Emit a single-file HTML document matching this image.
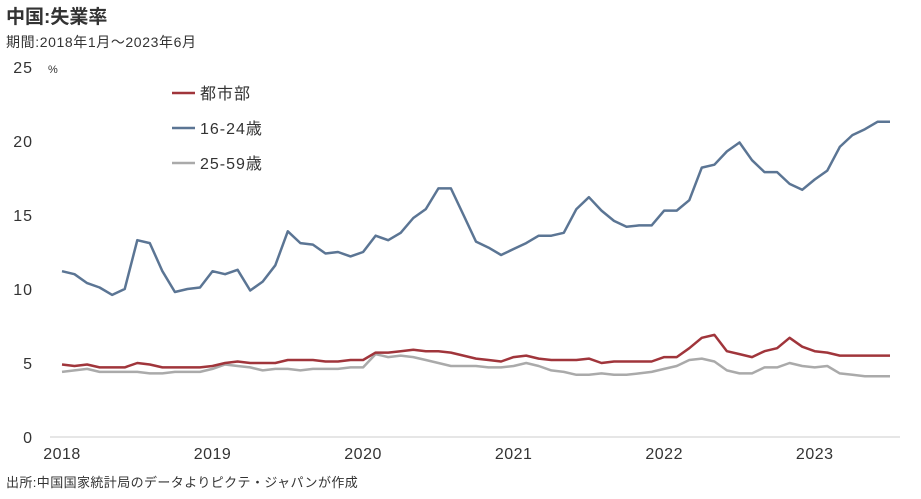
<!DOCTYPE html>
<html><head><meta charset="utf-8"><style>
body{margin:0;background:#fff;}
svg text{font-family:"Liberation Sans","Noto Sans CJK JP",sans-serif;fill:#333;}
</style></head><body>
<svg width="921" height="494" xmlns="http://www.w3.org/2000/svg">
<text x="6" y="23" font-size="19" font-weight="bold">中国:失業率</text>
<text x="6" y="47" font-size="14" letter-spacing="0.6">期間:2018年1月～2023年6月</text>
<text x="48" y="73" font-size="11">%</text>
<text x="6" y="487" font-size="13" letter-spacing="0.4">出所:中国国家統計局のデータよりピクテ・ジャパンが作成</text>
<line x1="50" y1="437" x2="900" y2="437" stroke="#e6e6e6" stroke-width="2"/>
<g id="yt"></g><g id="xt"></g><g id="lines"></g>
<g>
<line x1="172" y1="93" x2="195" y2="93" stroke="#a0353b" stroke-width="2.5"/>
<text x="200" y="99" font-size="16" letter-spacing="1">都市部</text>
<line x1="172" y1="128" x2="195" y2="128" stroke="#5b7594" stroke-width="2.5"/>
<text x="200" y="134" font-size="16" letter-spacing="1">16-24歳</text>
<line x1="172" y1="163" x2="195" y2="163" stroke="#aaaaaa" stroke-width="2.5"/>
<text x="200" y="169" font-size="16" letter-spacing="1">25-59歳</text>
</g>
</svg>
<script>
const yTicks=[0,5,10,15,20,25];
const xLabels=["2018","2019","2020","2021","2022","2023"];
const youth=[11.2,11.0,10.4,10.1,9.6,10.0,13.3,13.1,11.2,9.8,10.0,10.1,
11.2,11.0,11.3,9.9,10.5,11.6,13.9,13.1,13.0,12.4,12.5,12.2,
12.5,13.6,13.3,13.8,14.8,15.4,16.8,16.8,15.0,13.2,12.8,12.3,
12.7,13.1,13.6,13.6,13.8,15.4,16.2,15.3,14.6,14.2,14.3,14.3,
15.3,15.3,16.0,18.2,18.4,19.3,19.9,18.7,17.9,17.9,17.1,16.7,
17.4,18.0,19.6,20.4,20.8,21.3,21.3];
const urban=[4.9,4.8,4.9,4.7,4.7,4.7,5.0,4.9,4.7,4.7,4.7,4.7,
4.8,5.0,5.1,5.0,5.0,5.0,5.2,5.2,5.2,5.1,5.1,5.2,
5.2,5.7,5.7,5.8,5.9,5.8,5.8,5.7,5.5,5.3,5.2,5.1,
5.4,5.5,5.3,5.2,5.2,5.2,5.3,5.0,5.1,5.1,5.1,5.1,
5.4,5.4,6.0,6.7,6.9,5.8,5.6,5.4,5.8,6.0,6.7,6.1,
5.8,5.7,5.5,5.5,5.5,5.5,5.5];
const adult=[4.4,4.5,4.6,4.4,4.4,4.4,4.4,4.3,4.3,4.4,4.4,4.4,
4.6,4.9,4.8,4.7,4.5,4.6,4.6,4.5,4.6,4.6,4.6,4.7,
4.7,5.6,5.4,5.5,5.4,5.2,5.0,4.8,4.8,4.8,4.7,4.7,
4.8,5.0,4.8,4.5,4.4,4.2,4.2,4.3,4.2,4.2,4.3,4.4,
4.6,4.8,5.2,5.3,5.1,4.5,4.3,4.3,4.7,4.7,5.0,4.8,
4.7,4.8,4.3,4.2,4.1,4.1,4.1];
const NS="http://www.w3.org/2000/svg";
const x0=62,x1=890,y0=437,yPer=14.8;
const xs=i=>x0+i*(x1-x0)/(youth.length-1);
const ys=v=>y0-v*yPer;
const yt=document.getElementById('yt');
yTicks.forEach(t=>{const e=document.createElementNS(NS,'text');
e.setAttribute('x',33);e.setAttribute('y',ys(t)+6);e.setAttribute('text-anchor','end');e.setAttribute('font-size','16');e.setAttribute('letter-spacing','1');
e.textContent=t;


yt.appendChild(e);});
const xt=document.getElementById('xt');
xLabels.forEach((l,k)=>{const e=document.createElementNS(NS,'text');
e.setAttribute('x',xs(k*12));e.setAttribute('y',459);e.setAttribute('text-anchor','middle');e.setAttribute('font-size','16');e.setAttribute('letter-spacing','0.5');
e.textContent=l;


xt.appendChild(e);});
const lg=document.getElementById('lines');
[[adult,'#aaaaaa','line-25-59'],[urban,'#a0353b','line-urban'],[youth,'#5b7594','line-16-24']].forEach(([d,c,n])=>{
const p=document.createElementNS(NS,'polyline');
p.setAttribute('points',d.map((v,i)=>xs(i).toFixed(1)+','+ys(v).toFixed(1)).join(' '));
p.setAttribute('fill','none');p.setAttribute('stroke',c);p.setAttribute('stroke-width','2.5');p.setAttribute('stroke-linejoin','round');


lg.appendChild(p);});
</script>
</body></html>
